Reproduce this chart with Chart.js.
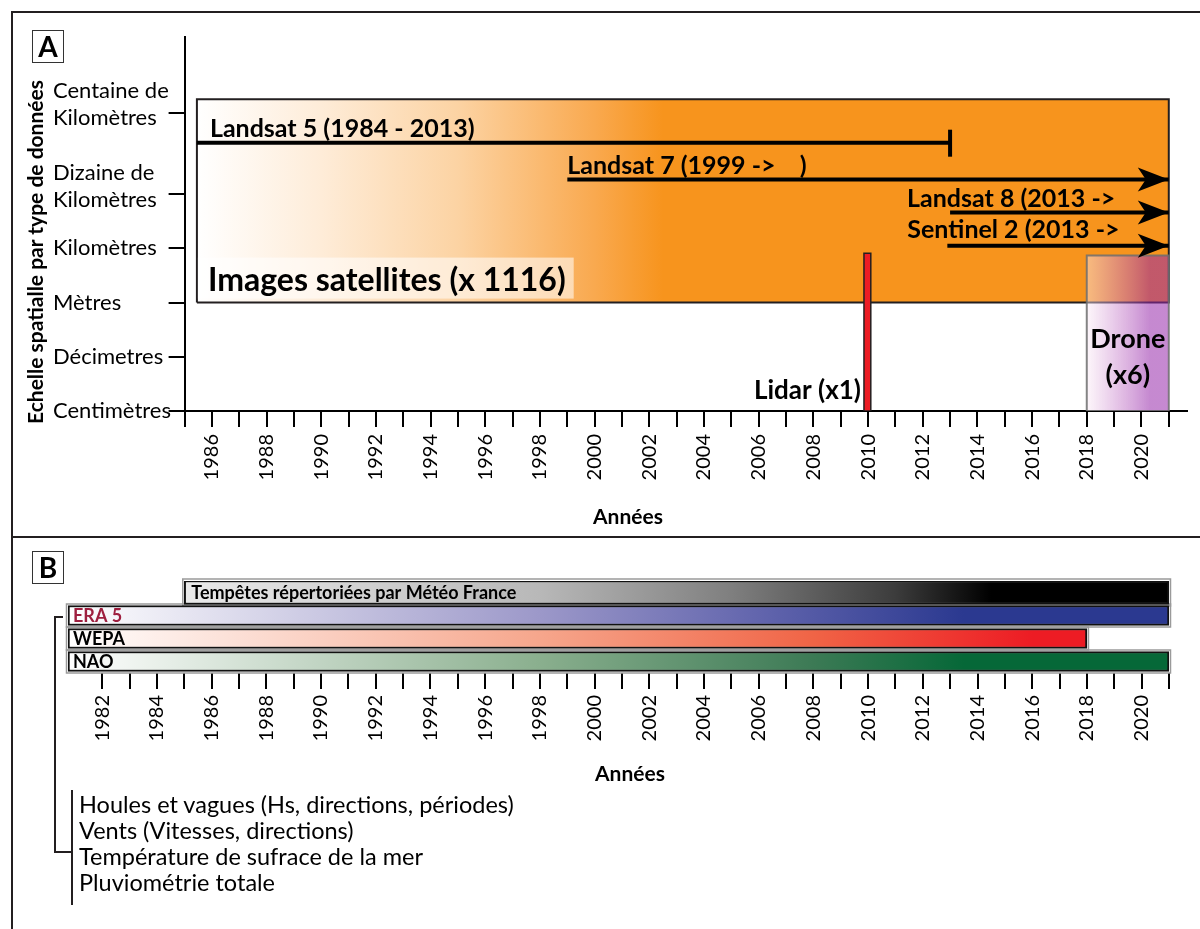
<!DOCTYPE html>
<html>
<head>
<meta charset="utf-8">
<script src="https://cdn.jsdelivr.net/npm/chart.js@4.4.0/dist/chart.umd.min.js"></script>
<style>
  body { margin: 0; background: #fff; font-family: Lato, sans-serif; color: #000; }
  #page { position: relative; width: 1200px; height: 929px; overflow: hidden; }
  canvas { position: absolute; left: 0; }
  #chartA { top: 0; }
  #chartB { top: 537px; }
  .rule { position: absolute; background: #231f20; }
  .tag { position: absolute; left: 32px; width: 30px; height: 31px; border: 1px solid #333;
         font-weight: bold; font-size: 28px; line-height: 31px; text-align: center; }
  .title { position: absolute; width: 200px; text-align: center; font-weight: bold; font-size: 21px; line-height: 24px; }
  #ytitle { position: absolute; left: -165px; top: 240px; width: 400px; line-height: 24px; text-align: center;
            font-weight: bold; font-size: 21px; transform: rotate(-90deg); }
  #vars { position: absolute; left: 79px; top: 791px; font-size: 23.5px; line-height: 26px; white-space: nowrap; }
</style>
</head>
<body>
<div id="page">
  <canvas id="chartA" width="1200" height="537"></canvas>
  <canvas id="chartB" width="1200" height="392"></canvas>

  <div class="rule" style="left:11px; top:11px; width:2px; height:918px;"></div>
  <div class="rule" style="left:11px; top:11px; width:1189px; height:2px;"></div>
  <div class="rule" style="left:11px; top:536px; width:1189px; height:2px;"></div>

  <div class="tag" style="top:30px;">A</div>
  <div class="tag" style="top:551px;">B</div>

  <div id="ytitle">Echelle spatialle par type de données</div>
  <div class="title" style="left:528px; top:504px;">Années</div>
  <div class="title" style="left:530px; top:761px;">Années</div>

  <div class="rule" style="left:54px; top:616px; width:2px; height:237px;"></div>
  <div class="rule" style="left:54px; top:616px; width:9px; height:2px;"></div>
  <div class="rule" style="left:54px; top:851px; width:17px; height:2px;"></div>
  <div class="rule" style="left:71px; top:790px; width:2px; height:115px;"></div>
  <div id="vars">
    Houles et vagues (Hs, directions, périodes)<br>
    Vents (Vitesses, directions)<br>
    Température de sufrace de la mer<br>
    Pluviométrie totale
  </div>
</div>

<script>
// --- panel A : spatial scale vs. years
var scaleValues = [0, 1, 2, 3, 4, 5.5];
var scaleLabels = ['Centimètres', 'Décimetres', 'Mètres', 'Kilomètres', ['Dizaine de', 'Kilomètres'], ['Centaine de', 'Kilomètres']];

var sensorNames = ['Landsat 5 (1984 - 2013)', 'Landsat 7 (1999 ->    )', 'Landsat 8 (2013 ->', 'Sentinel 2 (2013 ->'];
var sensorStart = [1985.45, 1999, 2013, 2012.9];
var sensorEnd = [2013, 2021, 2021, 2021];
var sensorLevel = [4.95, 4.27, 3.66, 3.05];
var sensorOngoing = [false, true, true, true];

var coverNames = ['Images satellites (x 1116)', 'Lidar (x1)', 'Drone', '(x6)'];
var coverStart = [1985.45, 2009.85, 2018];
var coverEnd = [2021, 2010.1, 2021];
var coverLow = [2, 0, 0];
var coverHigh = [5.75, 2.91, 2.87];

// --- panel B : climate / storm records
var recordNames = ['Tempêtes répertoriées par Météo France', 'ERA 5', 'WEPA', 'NAO'];
var recordStart = [1985, 1980.75, 1980.75, 1980.75];
var recordEnd = [2021, 2021, 2018, 2021];

// styles (kept apart from the data)
var sensorLabelDx = [13, 0, -43, -40];
var sensorLabelDy = [6, 6, 6, 8];
var coverStops = [
  [[1985.45, '#ffffff'], [1990, '#feecd8'], [1995, '#fcd3a3'], [2000, '#f9a94f'], [2002.5, '#f7941d']],
  [[2009.85, '#ed1c24'], [2010.1, '#ed1c24']],
  [[2018, 'rgba(250,235,245,0.45)'], [2019.3, 'rgba(195,120,200,0.5)'], [2020.3, 'rgba(150,40,170,0.55)']]
];
var coverBorder = ['#231f20', '#231f20', 'rgba(110,110,110,0.85)'];
var coverBorderWidth = [2, 1.5, 2];
var coverOrder = [4, 3, 2];
var recordStops = [
  [[1985, '#eaeaea'], [1998, '#b8b8b8'], [2005, '#7f7f7f'], [2011, '#3c3c3c'], [2014.5, '#000000']],
  [[1980.75, '#ffffff'], [1998, '#9c98c9'], [2006, '#6265ad'], [2013.5, '#2b3990']],
  [[1980.75, '#ffffff'], [1998, '#f6a68c'], [2008, '#f06446'], [2016, '#ed1c24']],
  [[1980.75, '#ffffff'], [1998, '#8aaf8e'], [2008, '#3c7a55'], [2013.5, '#066838']]
];
var recordTextColor = ['#000', '#9e1f3f', '#000', '#000'];

Chart.defaults.font.family = 'Lato';
Chart.defaults.color = '#000';

function makeGrad(chart, stops, fallback) {
  var x = chart.scales.x;
  if (!chart.chartArea || !x) return fallback;
  var x0 = x.getPixelForValue(stops[0][0]);
  var x1 = x.getPixelForValue(stops[stops.length - 1][0]);
  if (x1 - x0 < 1) return stops[0][1];
  var g = chart.ctx.createLinearGradient(x0, 0, x1, 0);
  stops.forEach(function(s) {
    g.addColorStop(Math.min(1, Math.max(0, (x.getPixelForValue(s[0]) - x0) / (x1 - x0))), s[1]);
  });
  return g;
}

function arrowHead(ctx, x, y) {
  ctx.beginPath();
  ctx.moveTo(x, y);
  ctx.lineTo(x - 31, y - 12);
  ctx.lineTo(x - 23, y);
  ctx.lineTo(x - 31, y + 12);
  ctx.closePath();
  ctx.fill();
}

var tickGrid = { display: true, drawOnChartArea: false, drawTicks: true, tickLength: 16, color: '#000', lineWidth: 2 };

document.addEventListener('DOMContentLoaded', function() {
  var datasetsA = [];
  sensorNames.forEach(function(name, i) {
    datasetsA.push({
      label: name,
      data: [{x: sensorStart[i], y: sensorLevel[i]}, {x: sensorEnd[i], y: sensorLevel[i]}],
      showLine: true, fill: false, borderColor: '#000', borderWidth: 4,
      pointRadius: 0, order: 0
    });
  });
  coverStart.forEach(function(s, i) {
    datasetsA.push({
      label: coverNames[i],
      data: [{x: s, y: coverLow[i]}, {x: s, y: coverHigh[i]}, {x: coverEnd[i], y: coverHigh[i]},
             {x: coverEnd[i], y: coverLow[i]}, {x: s, y: coverLow[i]}],
      showLine: true, fill: 'shape', tension: 0,
      backgroundColor: function(c) { return makeGrad(c.chart, coverStops[i], '#f7941d'); },
      borderColor: coverBorder[i], borderWidth: coverBorderWidth[i], borderJoinStyle: 'miter',
      pointRadius: 0, order: coverOrder[i]
    });
  });

  var labelsA = {
    id: 'labelsA',
    afterDatasetsDraw: function(chart) {
      var ctx = chart.ctx, x = chart.scales.x, y = chart.scales.y;
      ctx.save();
      ctx.fillStyle = '#000';
      ctx.strokeStyle = '#000';

      // y tick labels, left aligned, multi-line ones lifted a little
      ctx.font = '22px Lato';
      ctx.textAlign = 'left';
      ctx.textBaseline = 'middle';
      scaleValues.forEach(function(v, i) {
        var lines = [].concat(scaleLabels[i]);
        var py = y.getPixelForValue(v) - (lines.length > 1 ? 8 : 0);
        lines.forEach(function(t, j) {
          ctx.fillText(t, y.left, py + (j - (lines.length - 1) / 2) * 27);
        });
      });
      ctx.textBaseline = 'alphabetic';

      // satellites cover label with its pale backing
      ctx.font = 'bold 32px Lato';
      var bx = x.getPixelForValue(coverStart[0]);
      var by = y.getPixelForValue(coverLow[0]) - 12;
      var w = ctx.measureText(coverNames[0]).width;
      ctx.fillStyle = 'rgba(255,255,255,0.55)';
      ctx.fillRect(bx + 1, by - 33, w + 18, 41);
      ctx.fillStyle = '#000';
      ctx.fillText(coverNames[0], bx + 11, by);

      // sensor lines: heads, caps, names
      ctx.font = 'bold 25px Lato';
      sensorNames.forEach(function(name, i) {
        var p0 = x.getPixelForValue(sensorStart[i]);
        var p1 = x.getPixelForValue(sensorEnd[i]);
        var py = y.getPixelForValue(sensorLevel[i]);
        if (sensorOngoing[i]) {
          arrowHead(ctx, p1, py);
        } else {
          ctx.lineWidth = 4;
          ctx.beginPath();
          ctx.moveTo(p1, py - 13);
          ctx.lineTo(p1, py + 14);
          ctx.stroke();
        }
        ctx.fillText(name, p0 + sensorLabelDx[i], py - sensorLabelDy[i]);
      });

      // lidar
      ctx.font = 'bold 26px Lato';
      ctx.textAlign = 'right';
      ctx.fillText(coverNames[1], x.getPixelForValue(coverStart[1]) - 3, y.getPixelForValue(0) - 12);

      // drone
      ctx.font = 'bold 27px Lato';
      ctx.textAlign = 'center';
      var dx = (x.getPixelForValue(coverStart[2]) + x.getPixelForValue(coverEnd[2])) / 2;
      ctx.fillText(coverNames[2], dx, y.getPixelForValue(0) - 63);
      ctx.fillText(coverNames[3], dx, y.getPixelForValue(0) - 27);
      ctx.restore();
    }
  };

  new Chart(document.getElementById('chartA').getContext('2d'), {
    type: 'scatter',
    data: { datasets: datasetsA },
    options: {
      responsive: false,
      animation: false,
      layout: { padding: { left: 53, right: 12, top: 37, bottom: 46 } },
      plugins: { legend: { display: false }, tooltip: { enabled: false } },
      scales: {
        x: {
          type: 'linear', min: 1985, max: 2021.65,
          grid: tickGrid,
          border: { display: true, color: '#000', width: 2 },
          afterFit: function(s) { s.height = 80; },
          ticks: {
            stepSize: 1, includeBounds: false, autoSkip: false,
            minRotation: 90, maxRotation: 90, padding: 7,
            font: { size: 20 },
            callback: function(v) { return v % 2 === 0 ? String(v) : ''; }
          }
        },
        y: {
          type: 'linear', min: 0, max: 6.9,
          grid: tickGrid,
          border: { display: true, color: '#000', width: 2 },
          afterBuildTicks: function(s) { s.ticks = scaleValues.map(function(v) { return {value: v}; }); },
          afterFit: function(s) { s.width = 131.6; },
          ticks: { display: false }
        }
      }
    },
    plugins: [labelsA]
  });

  // panel B
  var labelsB = {
    id: 'labelsB',
    beforeDatasetsDraw: function(chart) {
      // thin grey halo round each record bar
      var ctx = chart.ctx;
      ctx.save();
      ctx.strokeStyle = '#9a9a9a';
      ctx.lineWidth = 1.5;
      chart.data.datasets.forEach(function(ds, d) {
        chart.getDatasetMeta(d).data.forEach(function(el, i) {
          if (!ds.data[i]) return;
          var l = Math.min(el.base, el.x), r = Math.max(el.base, el.x);
          ctx.strokeRect(l - 1.5, el.y - el.height / 2 - 1.5, r - l + 3, el.height + 3);
        });
      });
      ctx.restore();
    },
    afterDatasetsDraw: function(chart) {
      var ctx = chart.ctx;
      ctx.save();
      ctx.font = 'bold 18px Lato';
      ctx.textAlign = 'left';
      ctx.textBaseline = 'middle';
      chart.data.datasets.forEach(function(ds, d) {
        chart.getDatasetMeta(d).data.forEach(function(el, i) {
          if (!ds.data[i]) return;
          ctx.fillStyle = recordTextColor[i];
          ctx.fillText(recordNames[i], Math.min(el.base, el.x) + (i === 0 ? 7 : 5), el.y + 1);
        });
      });
      ctx.restore();
    }
  };

  var barStyle = {
    grouped: false, borderColor: '#111', borderWidth: 2, borderSkipped: false,
    backgroundColor: function(c) { return makeGrad(c.chart, recordStops[c.dataIndex], '#888'); }
  };

  new Chart(document.getElementById('chartB').getContext('2d'), {
    type: 'bar',
    data: {
      labels: recordNames,
      datasets: [
        Object.assign({ barThickness: 24,
          data: recordNames.map(function(n, i) { return i === 0 ? [recordStart[i], recordEnd[i]] : null; }) }, barStyle),
        Object.assign({ barThickness: 20,
          data: recordNames.map(function(n, i) { return i > 0 ? [recordStart[i], recordEnd[i]] : null; }) }, barStyle)
      ]
    },
    options: {
      indexAxis: 'y',
      responsive: false,
      animation: false,
      layout: { padding: { left: 68, right: 31, top: 44, bottom: 136 } },
      plugins: { legend: { display: false }, tooltip: { enabled: false } },
      scales: {
        x: {
          type: 'linear', min: 1980.75, max: 2021,
          grid: tickGrid,
          border: { display: false },
          afterBuildTicks: function(s) { s.ticks = s.ticks.filter(function(t) { return t.value >= 1982; }); },
          afterFit: function(s) { s.height = 120; },
          ticks: {
            stepSize: 1, includeBounds: false, autoSkip: false,
            minRotation: 90, maxRotation: 90, padding: 6,
            font: { size: 20 },
            callback: function(v) { return v % 2 === 0 ? String(v) : ''; }
          }
        },
        y: { display: false }
      }
    },
    plugins: [labelsB]
  });
});
</script>
</body>
</html>
